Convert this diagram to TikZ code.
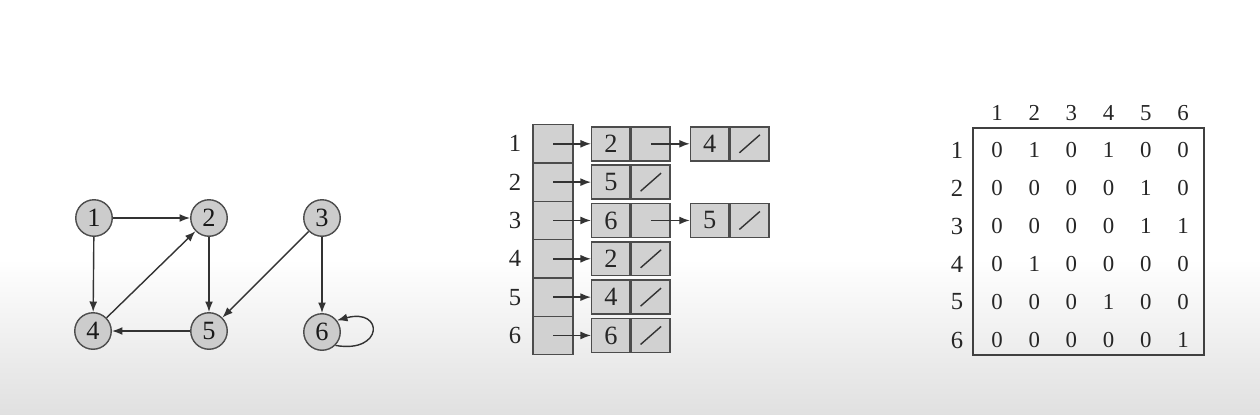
\documentclass[tikz,border=0pt]{standalone}
\usepackage{fontspec}
\setmainfont{Liberation Serif}
\usetikzlibrary{arrows.meta,positioning}

\begin{document}
\begin{tikzpicture}
      [ x = .02cm, y = .02cm
      , vertex/.style =
        { circle, draw = black!70, fill = black!20, line width = .8pt
        , minimum size = .73cm, inner sep = 0pt, text = black!90
        , font = \fontsize{15}{15}\selectfont }
      , edge/.style =
        { -{Latex[length=6pt,width=4.5pt]}, draw = black!80, line width = .8pt }
      , slot/.style =
        { draw = black!70, fill = black!18, line width = .8pt
        , minimum width = .8cm, minimum height = .7667cm, inner sep = 0pt }
      , field/.style =
        { draw = black!70, fill = black!18, line width = .8pt
        , minimum width = .77cm, minimum height = .68cm, inner sep = 0pt
        , text = black!85, font = \fontsize{15}{15}\selectfont }
      , nil/.style =
        { field, path picture =
          { \draw [black!80, line width = .8pt]
              ([shift={(9,8)}]path picture bounding box.south west) --
              ([shift={(-9,-8)}]path picture bounding box.north east); } }
      , index/.style =
        { text = black!85, font = \fontsize{14}{14}\selectfont }
      , entry/.style =
        { text = black!85, font = \fontsize{13}{13}\selectfont }
      ]
      % background
      \useasboundingbox (0,0) rectangle (1260,414);
      \fill [white] (0,0) rectangle (1260,414);
      \shade [top color = white, bottom color = black!12] (0,0) rectangle (1260,155);

      % directed graph
      \node [vertex] (1) at (94,196) {1};
      \node [vertex] (2) at (209,196) {2};
      \node [vertex] (3) at (322,196) {3};
      \node [vertex] (4) at (93,83) {4};
      \node [vertex] (5) at (209,83) {5};
      \node [vertex] (6) at (322,82) {6};
      \draw [edge] (1) -- (2);
      \draw [edge] (1) -- (4);
      \draw [edge] (2) -- (5);
      \draw [edge] (4) -- (2);
      \draw [edge] (5) -- (4);
      \draw [edge] (3) -- (5);
      \draw [edge] (3) -- (6);
      \draw [edge] (6.-45) to [out=-10, in=15, min distance=.98cm] (6.38);

      % adjacency lists
      \foreach \i in {1,...,6}
        { \node [slot] (a\i) at (553, {270.2-(\i-1)*38.33}) {};
          \node [index] (r\i) at (515, {270.2-(\i-1)*38.33}) {\i}; }
      \foreach \i/\k in {1/2, 3/6}
        { \node [field, right=.76cm of a\i.center] (k\i) {\k};
          \node [field, right=0pt of k\i] (p\i) {}; }
      \foreach \i/\k in {2/5, 4/2, 5/4, 6/6}
        { \node [field, right=.76cm of a\i.center] (k\i) {\k};
          \node [nil, right=0pt of k\i] (p\i) {}; }
      \node [field, right=.38cm of p1] (q1) {4};
      \node [nil, right=0pt of q1] (n1) {};
      \node [field, right=.38cm of p3] (q3) {5};
      \node [nil, right=0pt of q3] (n3) {};
      \foreach \i in {1,...,6}
        \draw [edge] (a\i.center) -- (k\i);
      \draw [edge] (p1.center) -- (q1);
      \draw [edge] (p3.center) -- (q3);

      % adjacency matrix
      \draw [black!75, line width = .8pt] (973,286) rectangle (1204,59);
      \foreach \c in {1,...,6}
        \node [entry] (h\c) at ({997+37.2*(\c-1)}, 301) {\c};
      \foreach \r/\vals in {1/{0,1,0,1,0,0},2/{0,0,0,0,1,0},3/{0,0,0,0,1,1},4/{0,1,0,0,0,0},5/{0,0,0,1,0,0},6/{0,0,0,0,0,1}}
        { \node [index] (l\r) at (957, {264-38*(\r-1)}) {\r};
          \foreach \v [count=\c] in \vals
            \node [entry] (m\r-\c) at ({997+37.2*(\c-1)}, {264-38*(\r-1)}) {\v}; }
    \end{tikzpicture}
\end{document}
